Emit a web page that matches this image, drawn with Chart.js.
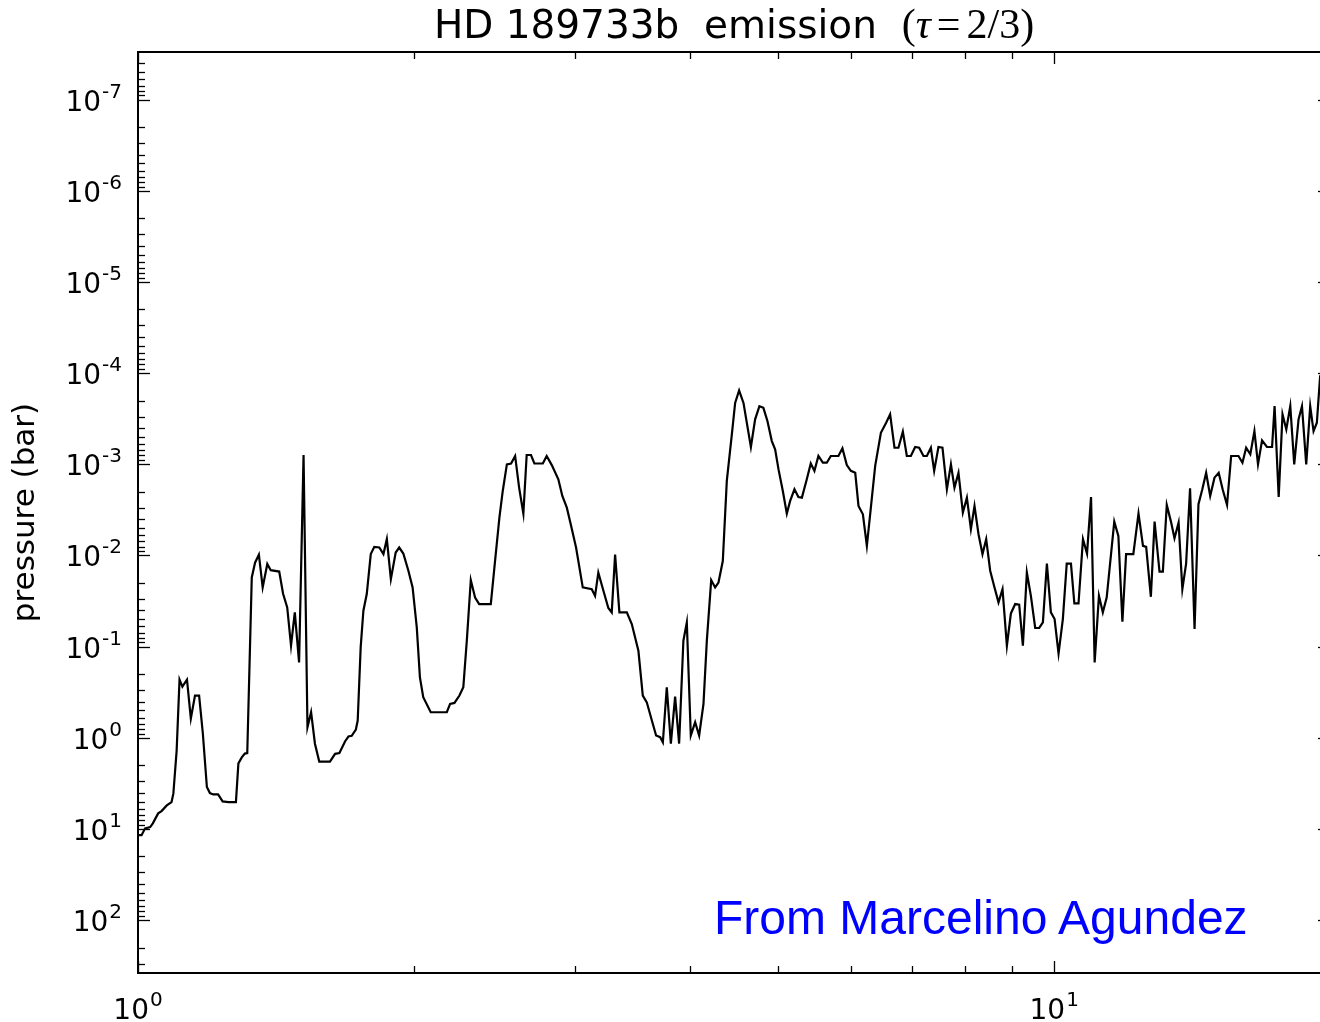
<!DOCTYPE html>
<html>
<head>
<meta charset="utf-8">
<title>HD 189733b emission</title>
<script src="https://cdn.jsdelivr.net/npm/chart.js@4.4.1/dist/chart.umd.min.js"></script>
<style>
  html, body { margin: 0; padding: 0; background: #fff; overflow: hidden; }
  #wrap { position: relative; width: 1340px; height: 1022px; }
  #plot { position: absolute; left: 0; top: 0; }
  #title {
    position: absolute; left: 0; top: 5px; width: 1468px; text-align: center;
    font-family: "DejaVu Sans", sans-serif; font-size: 39px; line-height: 38px;
    color: #000; white-space: pre;
  }
  #title .math { font-family: "Liberation Serif", "DejaVu Serif", serif; font-size: 42px; }
  #title .math i { font-style: italic; }
  #title .rel { margin: 0 6px; }
  #credit {
    position: absolute; left: 714px; top: 894px;
    font-family: "Liberation Sans", Arial, sans-serif; font-size: 48px; line-height: 48px;
    color: #0000ff; white-space: nowrap;
  }
</style>
</head>
<body>
<div id="wrap">
  <canvas id="plot" width="1340" height="1022"></canvas>
  <div id="title">HD 189733b  emission  <span class="math">(<i>τ</i><span class="rel">=</span>2/3)</span></div>
  <div id="credit">From Marcelino Agundez</div>
</div>
<script>
// Wavelength grid (micron) of the emission spectrum
const wavelength = [
  1.000,1.009,1.018,1.031,1.038,1.052,1.061,1.075,1.088,1.093,
  1.102,1.110,1.118,1.131,1.142,1.154,1.166,1.177,1.189,1.198,
  1.208,1.223,1.237,1.255,1.279,1.287,1.298,1.308,1.316,1.331,
  1.342,1.355,1.368,1.384,1.396,1.426,1.440,1.455,1.469,1.483,
  1.499,1.516,1.531,1.545,1.560,1.577,1.620,1.641,1.659,1.683,
  1.697,1.711,1.729,1.737,1.750,1.762,1.777,1.795,1.811,1.834,
  1.853,1.869,1.888,1.911,1.928,1.948,1.973,1.994,2.015,2.031,
  2.048,2.087,2.173,2.191,2.215,2.243,2.265,2.285,2.308,2.333,
  2.357,2.427,2.453,2.480,2.501,2.527,2.554,2.580,2.606,2.634,
  2.656,2.685,2.708,2.766,2.793,2.829,2.876,2.905,2.938,2.967,
  3.007,3.058,3.128,3.154,3.180,3.221,3.261,3.289,3.317,3.353,
  3.416,3.459,3.517,3.556,3.592,3.638,3.677,3.715,3.740,3.777,
  3.816,3.857,3.896,3.938,3.972,4.012,4.056,4.097,4.142,4.177,
  4.223,4.265,4.301,4.348,4.392,4.448,4.485,4.530,4.580,4.666,
  4.716,4.767,4.815,4.864,4.918,4.959,5.001,5.056,5.107,5.150,
  5.206,5.258,5.304,5.370,5.424,5.474,5.529,5.591,5.647,5.704,
  5.814,5.873,5.938,5.999,6.065,6.115,6.183,6.245,6.308,6.377,
  6.469,6.555,6.621,6.694,6.761,6.836,6.905,6.975,7.051,7.122,
  7.200,7.261,7.335,7.396,7.476,7.552,7.636,7.714,7.783,7.862,
  7.949,8.030,8.111,8.185,8.268,8.351,8.429,8.514,8.607,8.694,
  8.782,8.879,8.969,9.066,9.158,9.243,9.336,9.431,9.534,9.630,
  9.720,9.818,9.917,10.01,10.11,10.22,10.32,10.43,10.52,10.63,
  10.75,10.86,10.97,11.07,11.19,11.30,11.41,11.63,11.75,11.87,
  11.98,12.20,12.36,12.50,12.60,12.75,12.87,13.03,13.14,13.27,
  13.41,13.53,13.67,13.80,13.93,14.07,14.23,14.37,14.51,14.65,
  14.80,14.96,15.12,15.27,15.44,15.60,15.89,16.05,16.20,16.37,
  16.54,16.69,16.86,17.07,17.29,17.40,17.58,17.75,17.92,18.10,
  18.28,18.48,18.64,18.84,19.03,19.19,19.35,19.51,19.80
];

// Pressure level (bar) where the optical depth reaches 2/3 at each wavelength
const pressure = [
  11.7,11.7,9.84,9.52,8.67,6.74,6.36,5.51,5.07,4.07,
  1.38,0.230,0.274,0.230,0.615,0.344,0.344,0.897,3.47,4.04,
  4.18,4.18,4.98,5.07,5.07,1.91,1.64,1.49,1.47,0.0174,
  0.0120,0.0098,0.0224,0.0124,0.0145,0.0150,0.0263,0.0372,0.0976,0.0421,
  0.149,7.9e-4,0.765,0.524,1.16,1.82,1.82,1.50,1.47,1.09,
  0.968,0.951,0.811,0.646,0.102,0.0404,0.0265,0.00966,0.00804,0.00818,
  0.00966,0.00662,0.0182,0.00928,0.00818,0.00952,0.0147,0.0224,0.0615,0.217,
  0.359,0.524,0.524,0.424,0.414,0.344,0.279,0.0860,0.0186,0.0289,
  0.0341,0.0341,0.0115,0.00384,0.00196,1.00e-3,9.8e-4,8.1e-4,1.80e-3,3.47e-3,
  7.9e-4,7.9e-4,9.8e-4,9.8e-4,8.1e-4,1.02e-3,1.46e-3,2.22e-3,2.99e-3,4.54e-3,
  8.18e-3,0.0224,0.0234,0.0277,0.0154,0.0244,0.0377,0.0421,9.8e-3,0.0421,
  0.0421,0.0565,0.111,0.344,0.408,0.646,0.943,0.985,1.12,0.279,
  1.16,0.353,1.16,0.0860,0.0542,0.943,0.675,0.943,0.424,0.0860,
  0.0186,0.0224,0.0198,0.0115,1.52e-3,4.69e-4,2.12e-4,1.55e-4,2.12e-4,6.46e-4,
  3.21e-4,2.30e-4,2.40e-4,3.35e-4,5.56e-4,6.85e-4,1.13e-3,1.96e-3,3.47e-3,2.52e-3,
  1.88e-3,2.28e-3,2.32e-3,1.46e-3,9.8e-4,1.18e-3,8.1e-4,9.6e-4,9.6e-4,8.1e-4,
  8.1e-4,6.68e-4,1.02e-3,1.18e-3,1.24e-3,2.86e-3,3.53e-3,7.84e-3,2.99e-3,1.04e-3,
  4.51e-4,3.50e-4,2.83e-4,6.58e-4,6.58e-4,4.39e-4,8.1e-4,8.1e-4,6.46e-4,6.58e-4,
  8.1e-4,8.1e-4,6.58e-4,1.18e-3,6.46e-4,6.58e-4,1.88e-3,1.00e-3,1.80e-3,1.24e-3,
  3.39e-3,2.32e-3,5.15e-3,2.86e-3,5.84e-3,9.66e-3,6.62e-3,0.0147,0.0224,0.0327,
  0.0234,0.0976,0.0432,0.0341,0.0347,0.0976,0.0154,0.0277,0.0624,0.0624,
  0.0542,0.0123,0.0421,0.0498,0.119,0.0498,0.0123,0.0123,0.0336,0.0336,
  6.62e-3,9.52e-3,2.28e-3,0.149,0.0277,0.0421,0.0289,4.25e-3,6.09e-3,0.0533,
  9.66e-3,9.66e-3,3.47e-3,7.84e-3,8.04e-3,0.0284,4.25e-3,0.0150,0.0150,2.79e-3,
  4.25e-3,6.46e-3,4.36e-3,0.0234,0.0124,1.83e-3,0.0640,2.74e-3,1.88e-3,1.24e-3,
  2.22e-3,1.40e-3,1.24e-3,1.88e-3,2.79e-3,8.1e-4,8.1e-4,9.6e-4,6.58e-4,7.77e-4,
  4.32e-4,1.00e-3,5.46e-4,6.46e-4,6.46e-4,2.30e-4,2.28e-3,2.83e-4,4.14e-4,2.30e-4,
  1.00e-3,3.21e-4,2.30e-4,1.00e-3,2.30e-4,4.32e-4,3.50e-4,1.08e-4,9.0e-5
];

// Axis ranges
const xRange = [1, 20];
const yRange = [3.13e-8, 380];

// Labelled (major) ticks: every label reads "10" raised to the listed exponent
const xMajorTicks = [1, 10];
const xTickExponents = ['0', '1'];
const yMajorTicks = [1e-7, 1e-6, 1e-5, 1e-4, 1e-3, 1e-2, 1e-1, 1, 10, 100];
const yTickExponents = ['-7', '-6', '-5', '-4', '-3', '-2', '-1', '0', '1', '2'];
// Unlabelled (minor) tick multipliers within each decade
const minorSteps = [2, 3, 4, 5, 6, 7, 8, 9];

function decadeTicks(lo, hi) {
  const out = [];
  const first = Math.floor(Math.log10(lo)) - 1;
  const last = Math.ceil(Math.log10(hi)) + 1;
  for (let e = first; e <= last; e++) {
    const base = Math.pow(10, e);
    [1].concat(minorSteps).forEach(m => {
      const v = m * base;
      if (v >= lo * 0.9999 && v <= hi * 1.0001) out.push(Number(v.toPrecision(6)));
    });
  }
  return out.sort((a, b) => a - b);
}
function isMajor(v, majors) {
  return majors.some(m => Math.abs(v / m - 1) < 1e-6);
}

const xTickValues = decadeTicks(xRange[0], xRange[1]);
const yTickValues = decadeTicks(yRange[0], yRange[1]);

const baseFont = '28px "DejaVu Sans"';
const expFont = '20px "DejaVu Sans"';

// Frame, inward tick marks on all four sides, and power-of-ten tick labels
const frameTicks = {
  id: 'frameTicks',
  afterDatasetsDraw(chart) {
    const { ctx, chartArea: a, scales: { x, y } } = chart;
    ctx.save();
    ctx.strokeStyle = '#000';
    ctx.lineWidth = 1.3;
    const seg = (x1, y1, x2, y2) => { ctx.beginPath(); ctx.moveTo(x1, y1); ctx.lineTo(x2, y2); ctx.stroke(); };
    xTickValues.forEach(v => {
      const px = Math.round(x.getPixelForValue(v)) + 0.5;
      const len = isMajor(v, xMajorTicks) ? 12 : 7;
      seg(px, a.bottom, px, a.bottom - len);
      seg(px, a.top, px, a.top + len);
    });
    yTickValues.forEach(v => {
      const py = Math.round(y.getPixelForValue(v)) + 0.5;
      const len = isMajor(v, yMajorTicks) ? 12 : 7;
      seg(a.left, py, a.left + len, py);
      seg(a.right, py, a.right - len, py);
    });
    ctx.lineWidth = 2;
    ctx.strokeRect(a.left, a.top, a.right - a.left, a.bottom - a.top);

    ctx.fillStyle = '#000';
    ctx.textBaseline = 'alphabetic';
    ctx.textAlign = 'left';
    // y labels, right-aligned against the axis
    yMajorTicks.forEach((v, i) => {
      const py = y.getPixelForValue(v);
      const exp = yTickExponents[i];
      ctx.font = expFont;
      const we = ctx.measureText(exp).width;
      ctx.font = baseFont;
      const wb = ctx.measureText('10').width;
      const right = a.left - 16;
      ctx.fillText('10', right - we - wb - 1, py + 11);
      ctx.font = expFont;
      ctx.fillText(exp, right - we, py - 2);
    });
    // x labels, centred under the tick
    xMajorTicks.forEach((v, i) => {
      const px = x.getPixelForValue(v);
      const exp = xTickExponents[i];
      ctx.font = expFont;
      const we = ctx.measureText(exp).width;
      ctx.font = baseFont;
      const wb = ctx.measureText('10').width;
      const start = px - (wb + we + 1) / 2;
      ctx.fillText('10', start, a.bottom + 46);
      ctx.font = expFont;
      ctx.fillText(exp, start + wb + 1, a.bottom + 33);
    });
    ctx.restore();
  }
};

new Chart(document.getElementById('plot'), {
  type: 'line',
  data: {
    datasets: [{
      data: wavelength.map((w, i) => ({ x: w, y: pressure[i] })),
      borderColor: '#000',
      borderWidth: 2.2,
      pointRadius: 0,
      pointHoverRadius: 0,
      tension: 0,
      fill: false
    }]
  },
  options: {
    responsive: false,
    animation: false,
    events: [],
    layout: { autoPadding: false, padding: { top: 52, right: 10, left: 0, bottom: 0 } },
    plugins: { legend: { display: false }, tooltip: { enabled: false }, title: { display: false } },
    scales: {
      x: {
        type: 'logarithmic',
        min: xRange[0],
        max: xRange[1],
        afterBuildTicks: s => { s.ticks = xTickValues.map(v => ({ value: v })); },
        afterFit: s => { s.height = 49; },
        grid: { display: false, drawTicks: false },
        border: { display: false },
        ticks: { display: false }
      },
      y: {
        type: 'logarithmic',
        reverse: true,
        min: yRange[0],
        max: yRange[1],
        afterBuildTicks: s => { s.ticks = yTickValues.map(v => ({ value: v })); },
        afterFit: s => { s.width = 138; },
        grid: { display: false, drawTicks: false },
        border: { display: false },
        title: {
          display: true, text: 'pressure (bar)', color: '#000',
          font: { family: 'DejaVu Sans', size: 31 }, padding: { top: 7, bottom: 0 }
        },
        ticks: { display: false }
      }
    }
  },
  plugins: [frameTicks]
});
</script>
</body>
</html>
